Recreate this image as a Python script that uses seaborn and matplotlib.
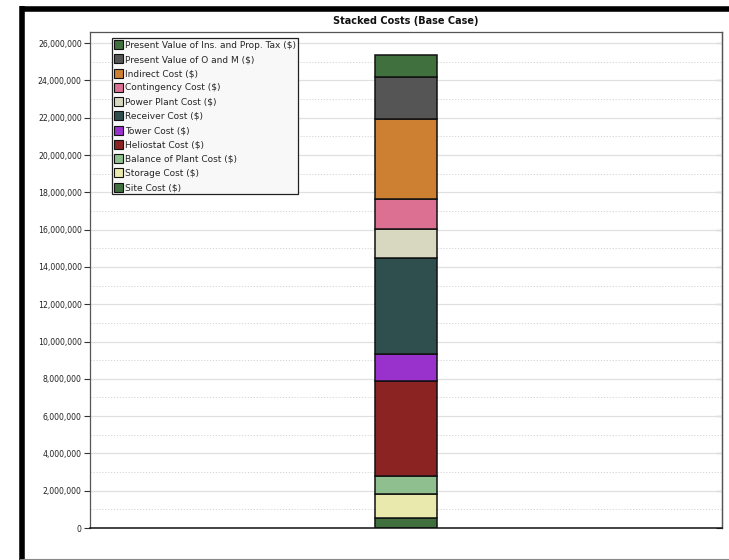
import matplotlib
matplotlib.use("Agg")
import matplotlib.pyplot as plt
import matplotlib.ticker as mticker
from matplotlib.lines import Line2D
from matplotlib.patches import Patch
import seaborn as sns
import pandas as pd

sns.set_theme(style="white")
plt.rcParams["font.family"] = ["DejaVu Sans"]

# Data (bottom to top)
categories = ["Base Case"]
components = [
    "Site Cost (\\$)",
    "Storage Cost (\\$)",
    "Balance of Plant Cost (\\$)",
    "Heliostat Cost (\\$)",
    "Tower Cost (\\$)",
    "Receiver Cost (\\$)",
    "Power Plant Cost (\\$)",
    "Contingency Cost (\\$)",
    "Indirect Cost (\\$)",
    "Present Value of O and M (\\$)",
    "Present Value of Ins. and Prop. Tax (\\$)",
]
values = [550000, 1290000, 930000, 5110000, 1450000, 5160000,
          1540000, 1610000, 4290000, 2270000, 1160000]
colors = ["#41703F", "#EAE9AD", "#8FBF8F", "#8B2323", "#9932CC", "#2F4F4F",
          "#D8D8C0", "#DB7093", "#CD7F32", "#555555", "#41703F"]
yticks = list(range(0, 26000001, 2000000))
ytick_labels = [f"{v:,}" for v in yticks]

fig = plt.figure(figsize=(7.29, 5.60), dpi=100)
ax = fig.add_axes([90 / 729, 1 - 528 / 560, (722 - 90) / 729, (528 - 32) / 560])

bottom = 0
for comp, val, col in zip(components, values, colors):
    df = pd.DataFrame({"case": categories, "value": [val]})
    sns.barplot(data=df, x="case", y="value", color=col, bottom=bottom,
                width=0.098, edgecolor="#111111", linewidth=1.1, ax=ax,
                saturation=1)
    bottom += val

ax.set_xlim(-0.5, 0.5)
ax.set_ylim(0, 26600000)
ax.set_xlabel("")
ax.set_ylabel("")
ax.set_xticks([])
ax.set_yticks(yticks)
ax.set_yticklabels(ytick_labels, fontsize=5.6, color="#222222")
ax.yaxis.set_minor_locator(mticker.MultipleLocator(1000000))
ax.grid(which="major", axis="y", color="#E0E0E0", linewidth=0.9, linestyle="-")
ax.grid(which="minor", axis="y", color="#D4D4D4", linewidth=0.7, linestyle=(0, (1.2, 1.8)))
ax.set_axisbelow(True)
ax.tick_params(axis="y", which="major", left=True, right=False, direction="out",
               length=4, width=0.8, color="#333333", pad=2)
ax.tick_params(axis="y", which="minor", left=False, right=False)

sec = ax.secondary_yaxis("right")
sec.set_yticks(yticks)
sec.set_yticklabels([])
sec.tick_params(axis="y", which="major", direction="in", length=4, width=0.8,
                color="#333333")
sec.spines["right"].set_color("#555555")
sec.spines["right"].set_linewidth(0.9)

for side, sp in ax.spines.items():
    sp.set_visible(True)
    sp.set_color("#555555")
    sp.set_linewidth(0.9)
ax.spines["bottom"].set_color("#111111")
ax.spines["bottom"].set_linewidth(1.1)

ax.set_title("Stacked Costs (Base Case)", fontsize=7, fontweight="bold",
             color="#111111", pad=6)

handles = [Patch(facecolor=c, edgecolor="#111111", linewidth=0.8, label=l)
           for l, c in zip(components, colors)][::-1]
leg = ax.legend(handles=handles, loc="upper left",
                bbox_to_anchor=((112 - 90) / 632, (528 - 38) / 496),
                fontsize=6.5, frameon=True, fancybox=False, framealpha=1,
                handlelength=1.0, handleheight=1.15, handletextpad=0.2,
                labelspacing=0.52, borderpad=0.25, borderaxespad=0)
leg.get_frame().set_edgecolor("#222222")
leg.get_frame().set_facecolor("#F8F8F8")
leg.get_frame().set_linewidth(0.9)

# figure frame
fig.add_artist(Line2D([22 / 729, 22 / 729], [0, 1 - 6 / 560], transform=fig.transFigure,
                      color="black", linewidth=4, solid_capstyle="butt"))
fig.add_artist(Line2D([20 / 729, 1], [1 - 8.5 / 560, 1 - 8.5 / 560], transform=fig.transFigure,
                      color="black", linewidth=4, solid_capstyle="butt"))
fig.add_artist(Line2D([20 / 729, 1], [1.5 / 560, 1.5 / 560], transform=fig.transFigure,
                      color="#888888", linewidth=0.8))

fig.savefig("out.png", dpi=100)
